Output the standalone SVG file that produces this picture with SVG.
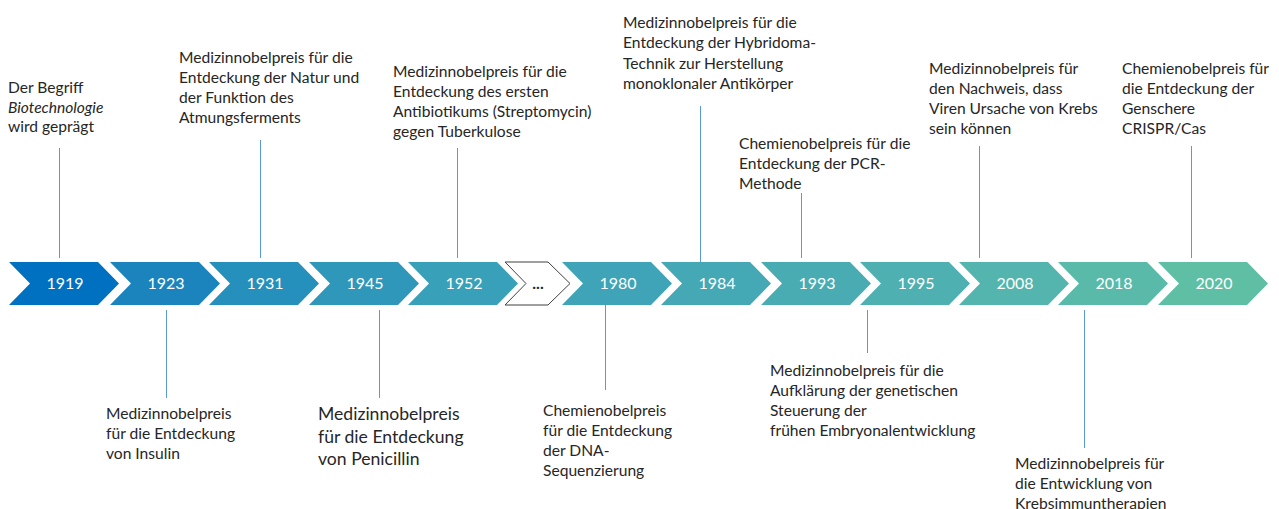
<svg xmlns="http://www.w3.org/2000/svg" width="1279" height="509" viewBox="0 0 1279 509">
<style>
.lbl{font-family:Lato,"Liberation Sans",sans-serif;font-size:15.6px;fill:#262626}
.big{font-size:17.6px}
.yr{font-family:Lato,"Liberation Sans",sans-serif;font-size:16px;fill:#ffffff;text-anchor:middle}
.dots{font-family:Lato,"Liberation Sans",sans-serif;font-size:16px;fill:#262626;text-anchor:middle;font-weight:bold}
.con line{stroke:#5B9BD5;stroke-width:1}
</style>
<defs>
<polygon id="chev" points="0,0 89,0 110,21.5 89,43 0,43 21,21.5"/>
</defs>
<rect width="1279" height="509" fill="#ffffff"/>
<g id="connectors" class="con">
<line x1="59.5" y1="148" x2="59.5" y2="258"/>
<line x1="260.5" y1="140" x2="260.5" y2="258"/>
<line x1="457.5" y1="148" x2="457.5" y2="258"/>
<line x1="700.5" y1="106" x2="700.5" y2="262"/>
<line x1="801.5" y1="193" x2="801.5" y2="258"/>
<line x1="979.5" y1="146" x2="979.5" y2="258"/>
<line x1="1191.5" y1="146" x2="1191.5" y2="258"/>
<line x1="166.5" y1="310" x2="166.5" y2="398"/>
<line x1="379.5" y1="310" x2="379.5" y2="398"/>
<line x1="605.5" y1="305" x2="605.5" y2="390"/>
<line x1="867.5" y1="310" x2="867.5" y2="353"/>
<line x1="1084.5" y1="310" x2="1084.5" y2="448"/>
</g>
<g id="n1919">
<use href="#chev" x="9" y="262" fill="#0070C0"/>
<text class="yr" x="65" y="289">1919</text>
<text class="lbl" x="8"><tspan x="8" y="93">Der Begriff</tspan><tspan x="8" y="112.5" font-style="italic">Biotechnologie</tspan><tspan x="8" y="132">wird geprägt</tspan></text>
</g>
<g id="n1923">
<use href="#chev" x="110" y="262" fill="#1B84BD"/>
<text class="yr" x="166" y="289">1923</text>
<text class="lbl"><tspan x="106" y="418.5">Medizinnobelpreis</tspan><tspan x="106" y="439">für die Entdeckung</tspan><tspan x="106" y="459">von Insulin</tspan></text>
</g>
<g id="n1931">
<use href="#chev" x="209" y="262" fill="#2590BC"/>
<text class="yr" x="265" y="289">1931</text>
<text class="lbl"><tspan x="179" y="62.5">Medizinnobelpreis für die</tspan><tspan x="179" y="82.5">Entdeckung der Natur und</tspan><tspan x="179" y="102.5">der Funktion des</tspan><tspan x="179" y="122.5">Atmungsferments</tspan></text>
</g>
<g id="n1945">
<use href="#chev" x="309" y="262" fill="#2F98BA"/>
<text class="yr" x="365" y="289">1945</text>
<text class="lbl big"><tspan x="318" y="420">Medizinnobelpreis</tspan><tspan x="318" y="443">für die Entdeckung</tspan><tspan x="318" y="465">von Penicillin</tspan></text>
</g>
<g id="n1952">
<use href="#chev" x="408" y="262" fill="#38A0B9"/>
<text class="yr" x="464" y="289">1952</text>
<text class="lbl"><tspan x="393" y="76.5">Medizinnobelpreis für die</tspan><tspan x="393" y="96.5">Entdeckung des ersten</tspan><tspan x="393" y="116.5">Antibiotikums (Streptomycin)</tspan><tspan x="393" y="136.5">gegen Tuberkulose</tspan></text>
</g>
<g id="ndots">
<polygon points="505,262 548,262 570,283.5 548,305 505,305 526,283.5" fill="#ffffff" stroke="#404040" stroke-width="1"/>
<text class="dots" x="538" y="289">...</text>
</g>
<g id="n1980">
<use href="#chev" x="562" y="262" fill="#3FA4B7"/>
<text class="yr" x="618" y="289">1980</text>
<text class="lbl"><tspan x="543" y="415.5">Chemienobelpreis</tspan><tspan x="543" y="435.5">für die Entdeckung</tspan><tspan x="543" y="455.5">der DNA-</tspan><tspan x="543" y="475.5">Sequenzierung</tspan></text>
</g>
<g id="n1984">
<use href="#chev" x="661" y="262" fill="#45A8B5"/>
<text class="yr" x="717" y="289">1984</text>
<text class="lbl"><tspan x="623" y="27.5">Medizinnobelpreis für die</tspan><tspan x="623" y="48">Entdeckung der Hybridoma-</tspan><tspan x="623" y="68.5">Technik zur Herstellung</tspan><tspan x="623" y="88.5">monoklonaler Antikörper</tspan></text>
</g>
<g id="n1993">
<use href="#chev" x="761" y="262" fill="#4AACB3"/>
<text class="yr" x="817" y="289">1993</text>
<text class="lbl"><tspan x="739" y="148.5">Chemienobelpreis für die</tspan><tspan x="739" y="168.5">Entdeckung der PCR-</tspan><tspan x="739" y="189">Methode</tspan></text>
</g>
<g id="n1995">
<use href="#chev" x="860" y="262" fill="#4EB0B1"/>
<text class="yr" x="916" y="289">1995</text>
<text class="lbl"><tspan x="770" y="375.5">Medizinnobelpreis für die</tspan><tspan x="770" y="395.5">Aufklärung der genetischen</tspan><tspan x="770" y="415.5">Steuerung der</tspan><tspan x="770" y="435.5">frühen Embryonalentwicklung</tspan></text>
</g>
<g id="n2008">
<use href="#chev" x="959" y="262" fill="#53B5AE"/>
<text class="yr" x="1015" y="289">2008</text>
<text class="lbl"><tspan x="929" y="73.5">Medizinnobelpreis für</tspan><tspan x="929" y="93.5">den Nachweis, dass</tspan><tspan x="929" y="113.5">Viren Ursache von Krebs</tspan><tspan x="929" y="133.5">sein können</tspan></text>
</g>
<g id="n2018">
<use href="#chev" x="1058" y="262" fill="#59BAAA"/>
<text class="yr" x="1114" y="289">2018</text>
<text class="lbl"><tspan x="1015" y="468.5">Medizinnobelpreis für</tspan><tspan x="1015" y="488.5">die Entwicklung von</tspan><tspan x="1015" y="508.5">Krebsimmuntherapien</tspan></text>
</g>
<g id="n2020">
<use href="#chev" x="1158" y="262" fill="#5EBFA5"/>
<text class="yr" x="1214" y="289">2020</text>
<text class="lbl"><tspan x="1122" y="73.5">Chemienobelpreis für</tspan><tspan x="1122" y="93.5">die Entdeckung der</tspan><tspan x="1122" y="113.5">Genschere</tspan><tspan x="1122" y="133.5">CRISPR/Cas</tspan></text>
</g>
</svg>
